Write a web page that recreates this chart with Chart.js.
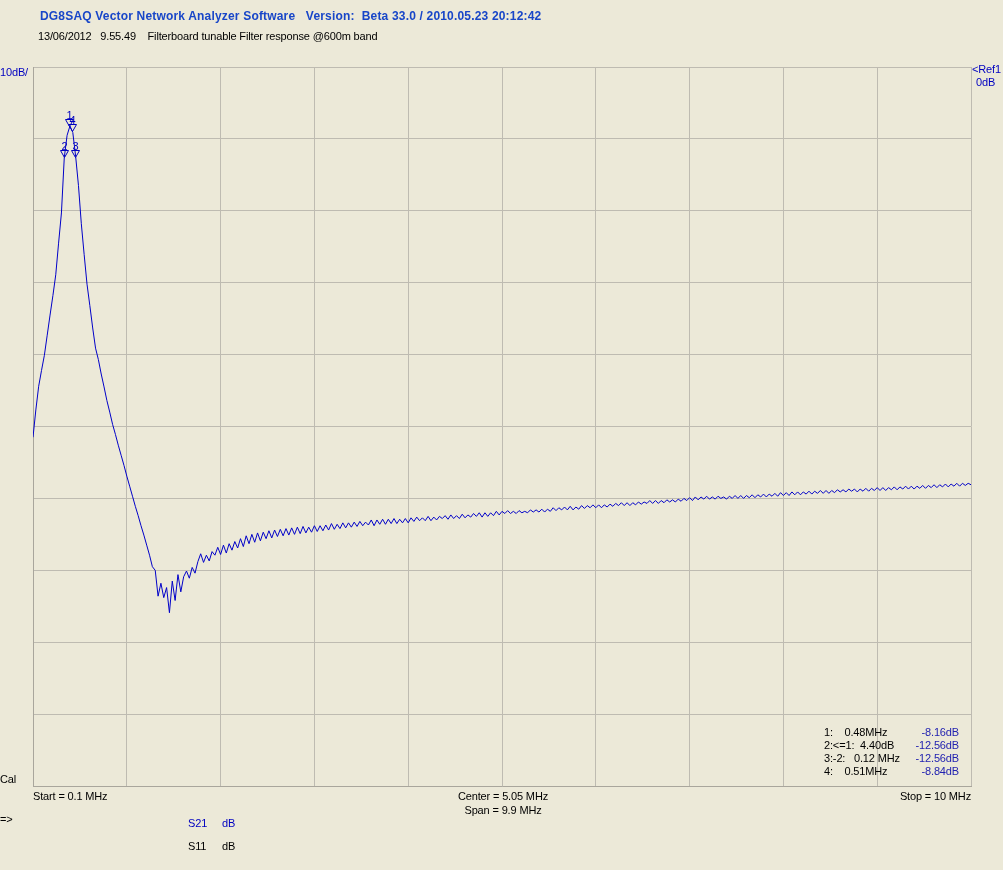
<!DOCTYPE html>
<html>
<head>
<meta charset="utf-8">
<title>DG8SAQ VNA - Filter response</title>
<script src="https://cdn.jsdelivr.net/npm/chart.js@4.4.1/dist/chart.umd.min.js"></script>
<style>
  html, body { margin: 0; padding: 0; background: #ECE9D8; }
  #wrap { position: relative; width: 1003px; height: 870px; overflow: hidden; background: #ECE9D8; }
  #wrap canvas { position: absolute; left: 0; top: 0; }
  .t { position: absolute; font-family: "Liberation Sans", Arial, sans-serif; font-size: 11px;
       line-height: 13px; white-space: pre; color: #000; letter-spacing: -0.15px; }
  .blue { color: #0000C0; }
  .head { color: #1846C8; font-weight: bold; font-size: 12px; letter-spacing: 0.18px; }
  .r { text-align: right; }
  .c { text-align: center; }
</style>
</head>
<body>
<div id="wrap">
  <canvas id="vna" width="1003" height="870"></canvas>

  <div class="t head" style="left:40px; top:10px;">DG8SAQ Vector Network Analyzer Software   Version:  Beta 33.0 / 2010.05.23 20:12:42</div>
  <div class="t" style="left:38px; top:30px;">13/06/2012   9.55.49    Filterboard tunable Filter response @600m band</div>

  <div class="t blue" style="left:0px; top:66px;">10dB/</div>
  <div class="t blue" style="left:972px; top:63px;">&lt;Ref1</div>
  <div class="t blue" style="left:976px; top:76px;">0dB</div>
  <div class="t" style="left:0px; top:773px;">Cal</div>

  <div class="t" style="left:33px; top:790px;">Start = 0.1 MHz</div>
  <div class="t c" style="left:403px; width:200px; top:790px;">Center = 5.05 MHz</div>
  <div class="t c" style="left:403px; width:200px; top:804px;">Span = 9.9 MHz</div>
  <div class="t r" style="left:771px; width:200px; top:790px;">Stop = 10 MHz</div>

  <div class="t" style="left:0px; top:813px;">=&gt;</div>
  <div class="t blue" style="left:188px; top:817px;">S21</div>
  <div class="t blue" style="left:222px; top:817px;">dB</div>
  <div class="t" style="left:188px; top:840px;">S11</div>
  <div class="t" style="left:222px; top:840px;">dB</div>

  <div id="mtab"></div>
</div>

<script>
// sweep: 0.1 .. 10 MHz, 331 points
var startMHz = 0.1;
var stopMHz = 10;
var stepMHz = 0.03;

// S21 in dB, one value per sweep point
var s21Db = [
  -51.5, -47.7, -44.4, -42.2, -40.1, -37.3, -34.5, -31.8, -28.9, -24.5,
  -20.3, -12.6, -9.5, -8.2, -9.1, -12.4, -16.5, -21.8, -26.1, -30.2,
  -33.2, -36.3, -39.1, -40.7, -42.7, -44.5, -46.4, -48.0, -49.7, -51.1,
  -52.6, -54.0, -55.4, -56.9, -58.3, -59.7, -61.1, -62.4, -63.8, -65.1,
  -66.5, -67.9, -69.5, -70.0, -73.6, -71.8, -73.8, -72.4, -75.9, -71.5,
  -74.2, -70.6, -73.0, -70.9, -70.1, -71.1, -69.6, -70.4, -68.8, -67.7,
  -68.9, -67.9, -68.7, -67.4, -67.9, -66.8, -67.8, -66.5, -67.6, -66.3,
  -67.2, -66.0, -66.9, -65.6, -66.7, -65.2, -66.3, -65.0, -66.1, -64.8,
  -65.9, -64.7, -65.6, -64.5, -65.5, -64.4, -65.3, -64.3, -65.2, -64.2,
  -65.1, -64.1, -65.0, -64.0, -64.9, -63.9, -64.8, -64.0, -64.7, -63.8,
  -64.6, -63.8, -64.5, -63.7, -64.4, -63.5, -64.3, -63.6, -64.2, -63.4,
  -64.1, -63.4, -64.0, -63.3, -63.9, -63.2, -63.8, -63.3, -63.7, -63.0,
  -63.8, -63.0, -63.6, -62.9, -63.6, -62.9, -63.5, -62.8, -63.5, -62.9,
  -63.4, -62.8, -63.4, -62.7, -63.2, -62.6, -63.1, -62.7, -63.1, -62.5,
  -63.1, -62.6, -63.0, -62.5, -62.8, -62.4, -62.9, -62.3, -62.8, -62.4,
  -62.8, -62.2, -62.7, -62.3, -62.6, -62.1, -62.5, -62.0, -62.6, -62.0,
  -62.5, -62.0, -62.4, -61.8, -62.3, -61.8, -62.1, -61.7, -62.1, -61.8,
  -62.1, -61.7, -62.0, -61.8, -62.0, -61.6, -61.9, -61.6, -61.9, -61.5,
  -61.9, -61.5, -61.8, -61.3, -61.7, -61.3, -61.6, -61.2, -61.6, -61.1,
  -61.6, -61.2, -61.5, -61.0, -61.4, -61.0, -61.3, -60.9, -61.3, -60.9,
  -61.3, -60.9, -61.2, -60.8, -61.1, -60.7, -61.0, -60.6, -61.0, -60.6,
  -61.0, -60.6, -60.9, -60.5, -60.8, -60.5, -60.7, -60.3, -60.7, -60.3,
  -60.7, -60.3, -60.6, -60.2, -60.5, -60.2, -60.5, -60.1, -60.4, -60.0,
  -60.3, -59.9, -60.3, -59.8, -60.2, -59.8, -60.1, -59.7, -60.1, -59.8,
  -60.1, -59.7, -60.0, -59.8, -60.1, -59.7, -60.0, -59.6, -60.0, -59.6,
  -60.0, -59.6, -59.9, -59.5, -59.9, -59.5, -59.8, -59.4, -59.8, -59.4,
  -59.7, -59.3, -59.7, -59.2, -59.6, -59.2, -59.6, -59.1, -59.5, -59.1,
  -59.5, -59.1, -59.4, -59.0, -59.4, -59.0, -59.3, -58.9, -59.3, -58.9,
  -59.3, -58.9, -59.2, -58.8, -59.1, -58.8, -59.1, -58.7, -59.0, -58.7,
  -59.1, -58.7, -59.0, -58.6, -59.0, -58.6, -58.9, -58.5, -58.9, -58.5,
  -58.9, -58.5, -58.8, -58.4, -58.8, -58.4, -58.7, -58.3, -58.7, -58.3,
  -58.7, -58.3, -58.6, -58.2, -58.6, -58.2, -58.5, -58.1, -58.5, -58.1,
  -58.4, -58.0, -58.4, -58.0, -58.3, -57.9, -58.3, -57.9, -58.2, -57.9,
  -58.1
];

// markers
var markerIds = ["1", "2", "3", "4"];
var markerMHz = [0.48, 0.427, 0.547, 0.51];
var markerDb = [-8.16, -12.56, -12.56, -8.84];

// marker readout table
var tabLeft = ["1:    0.48MHz", "2:<=1:  4.40dB", "3:-2:   0.12 MHz", "4:    0.51MHz"];
var tabRight = ["-8.16dB", "-12.56dB", "-12.56dB", "-8.84dB"];

var refDb = 0;
var dbPerDiv = 10;
var divs = 10;

var points = s21Db.map(function (v, i) {
    return { x: +(startMHz + i * stepMHz).toFixed(3), y: v };
});

var gridX = [];
for (var k = 0; k <= divs; k++) gridX.push(startMHz + k * (stopMHz - startMHz) / divs);

var tab = document.getElementById("mtab");
for (var r = 0; r < tabLeft.length; r++) {
    var a = document.createElement("div");
    a.className = "t";
    a.style.left = "824px";
    a.style.top = (726 + r * 13) + "px";
    a.textContent = tabLeft[r];
    tab.appendChild(a);
    var b = document.createElement("div");
    b.className = "t r";
    b.style.left = "859px";
    b.style.width = "100px";
    b.style.top = (726 + r * 13) + "px";
    b.style.color = "#2222B0";
    b.textContent = tabRight[r];
    tab.appendChild(b);
}

var markerPlugin = {
    id: "vnaMarkers",
    afterDatasetsDraw: function (chart) {
        var ctx = chart.ctx;
        var xs = chart.scales.x, ys = chart.scales.y;
        ctx.save();
        ctx.strokeStyle = "#0000C0";
        ctx.fillStyle = "#0000C0";
        ctx.lineWidth = 1;
        ctx.font = "11px 'Liberation Sans', Arial, sans-serif";
        ctx.textAlign = "center";
        ctx.textBaseline = "alphabetic";
        for (var m = 0; m < markerIds.length; m++) {
            var px = Math.round(xs.getPixelForValue(markerMHz[m])) + 0.5;
            var py = Math.round(ys.getPixelForValue(markerDb[m])) + 0.5;
            ctx.beginPath();
            ctx.moveTo(px - 4, py - 7);
            ctx.lineTo(px + 4, py - 7);
            ctx.lineTo(px, py);
            ctx.closePath();
            ctx.stroke();
            ctx.fillText(markerIds[m], px, py - 8);
        }
        ctx.restore();
    }
};

new Chart(document.getElementById("vna"), {
    type: "line",
    data: {
        datasets: [{
            label: "S21",
            data: points,
            borderColor: "#0000C8",
            borderWidth: 1,
            pointRadius: 0,
            tension: 0,
            fill: false
        }]
    },
    options: {
        responsive: false,
        animation: false,
        devicePixelRatio: 1,
        layout: { padding: { left: 33, right: 32, top: 67, bottom: 84 } },
        plugins: { legend: { display: false }, tooltip: { enabled: false } },
        scales: {
            x: {
                type: "linear",
                min: startMHz,
                max: stopMHz,
                afterBuildTicks: function (scale) {
                    scale.ticks = gridX.map(function (v) { return { value: v }; });
                },
                ticks: { display: false },
                grid: { color: "#BEBBB1", drawTicks: false, lineWidth: 1 },
                border: { color: "#A9A69C" }
            },
            y: {
                min: refDb - dbPerDiv * divs,
                max: refDb,
                ticks: { display: false, stepSize: dbPerDiv },
                grid: { color: "#BEBBB1", drawTicks: false, lineWidth: 1 },
                border: { color: "#A9A69C" }
            }
        }
    },
    plugins: [markerPlugin]
});
</script>
</body>
</html>
